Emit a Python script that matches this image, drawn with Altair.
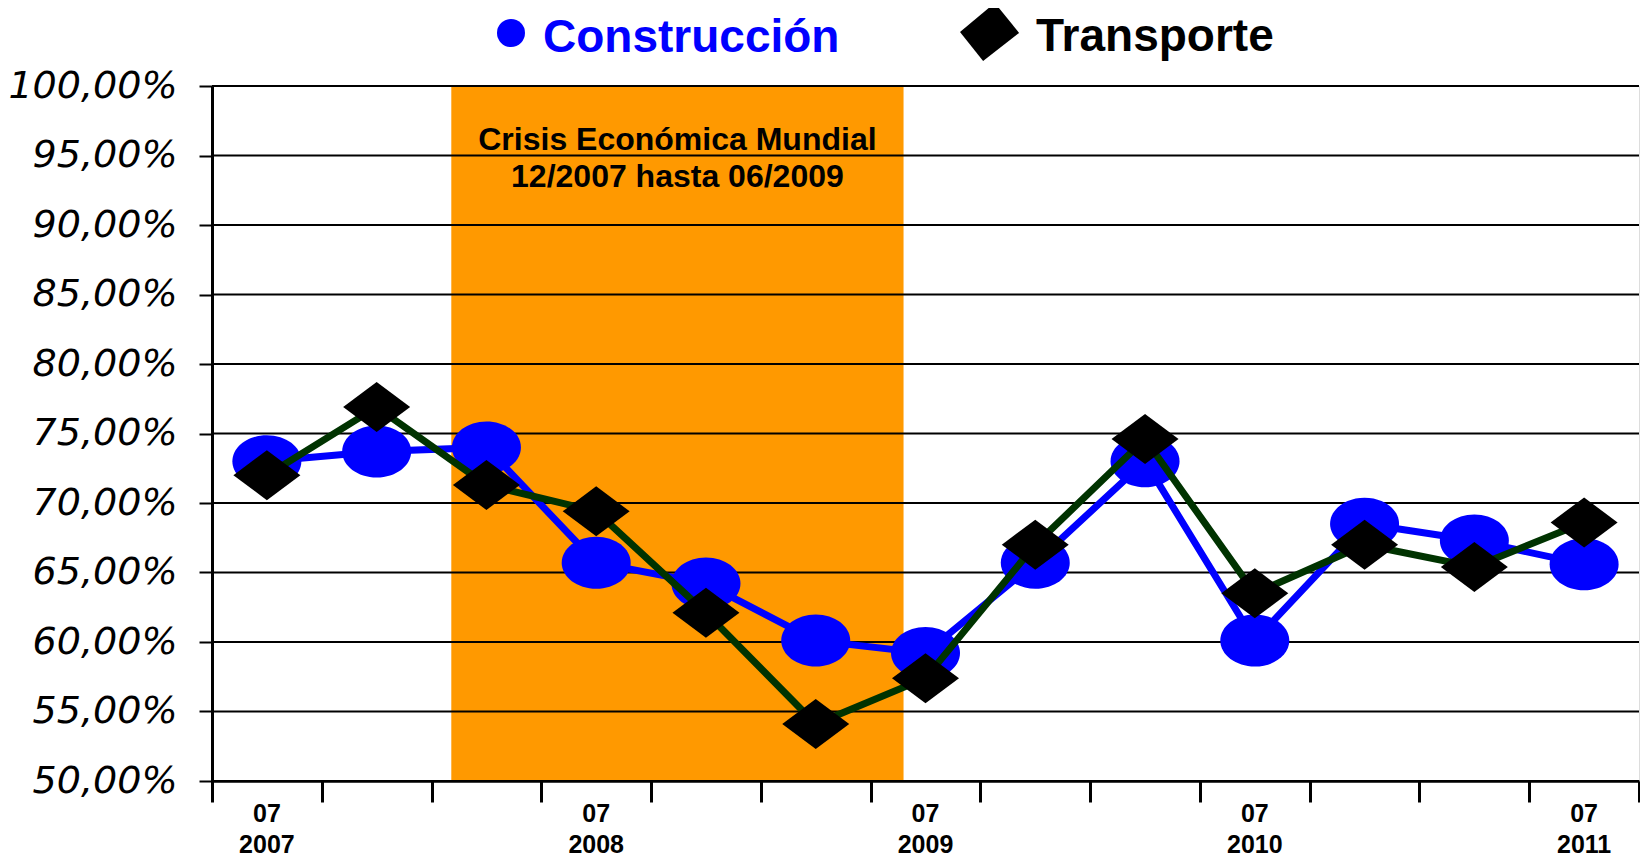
import altair as alt
import pandas as pd

# ---------------- data ----------------
periods = ["07/2007", "11/2007", "03/2008", "07/2008", "11/2008", "03/2009", "07/2009",
           "11/2009", "03/2010", "07/2010", "11/2010", "03/2011", "07/2011"]
construccion = [73.0, 73.7, 74.0, 65.7, 64.2, 60.1, 59.2, 65.7, 73.0, 60.1, 68.5, 67.3, 65.6]
transporte = [72.0, 76.9, 71.3, 69.4, 62.1, 54.1, 57.4, 67.0, 74.6, 63.5, 67.0, 65.4, 68.6]

band_start = [1.68]
band_end = [5.80]
band_label = ["Crisis Económica Mundial\n12/2007 hasta 06/2009"]
band_label_x = [3.74]
band_label_y = [0.954]

label_pos = [0, 3, 6, 9, 12]
label_text = ["07\n2007", "07\n2008", "07\n2009", "07\n2010", "07\n2011"]

y_ticks = [0.50, 0.55, 0.60, 0.65, 0.70, 0.75, 0.80, 0.85, 0.90, 0.95, 1.00]
x_ticks = [i - 0.5 for i in range(len(periods) + 1)]

series_names = ["Construcción", "Transporte"]

# ---------------- tables ----------------
idx = list(range(len(periods)))
df_c = pd.DataFrame({"i": idx, "periodo": periods, "v": [v / 100 for v in construccion]})
df_t = pd.DataFrame({"i": idx, "periodo": periods, "v": [v / 100 for v in transporte]})
df_band = pd.DataFrame({"a": band_start, "b": band_end, "lx": band_label_x,
                        "ly": band_label_y, "t": band_label})
df_lab = pd.DataFrame({"p": label_pos, "t": label_text})
df_grid = pd.DataFrame({"g": y_ticks})
df_leg1 = pd.DataFrame({"t": [series_names[0]]})
df_leg2 = pd.DataFrame({"t": [series_names[1]]})

W, H = 1427, 695
FONT = "Liberation Sans"

xs = alt.Scale(domain=[-0.5, 12.5], nice=False, zero=False)
ys = alt.Scale(domain=[0.5, 1.0], nice=False, zero=False)

x_axis = alt.Axis(values=x_ticks, labels=False, title=None, grid=False,
                  tickSize=21, tickWidth=3, tickColor="black",
                  domainColor="black", domainWidth=2.5, zindex=1)
y_axis = alt.Axis(values=y_ticks, grid=False, title=None,
                  tickSize=13, tickWidth=2, tickColor="black",
                  domainColor="black", domainWidth=3,
                  labelExpr="replace(format(datum.value, '.2%'), '.', ',')",
                  labelFont="DejaVu Sans", labelFontStyle="italic",
                  labelFontSize=38, labelColor="black", labelPadding=22, zindex=1)

ellipse = ("M 1 0 C 1 0.4164 0.5523 0.754 0 0.754 C -0.5523 0.754 -1 0.4164 -1 0 "
           "C -1 -0.4164 -0.5523 -0.754 0 -0.754 C 0.5523 -0.754 1 -0.4164 1 0 Z")
diamond = "M -1 0 L 0 -0.746 L 1 0 L 0 0.746 Z"
legend_diamond = "M -1 0 L 0.16 -0.97 L 0.97 0.03 L -0.23 0.97 Z"

band = alt.Chart(df_band).mark_rect(color="#FF9900").encode(
    x=alt.X("a:Q", scale=xs, axis=x_axis),
    x2="b:Q",
    y=alt.value(0),
    y2=alt.value(H),
)

band_text = alt.Chart(df_band).mark_text(
    font=FONT, fontWeight="bold", fontSize=32, color="black",
    align="center", baseline="alphabetic", lineBreak="\n", lineHeight=37
).encode(
    x=alt.X("lx:Q", scale=xs, axis=x_axis),
    y=alt.Y("ly:Q", scale=ys, axis=y_axis),
    text="t:N",
)

grid = alt.Chart(df_grid).mark_rule(color="black", strokeWidth=2).encode(
    y=alt.Y("g:Q", scale=ys, axis=y_axis)
)

line_c = alt.Chart(df_c).mark_line(color="#0000FF", strokeWidth=7).encode(
    x=alt.X("i:Q", scale=xs, axis=x_axis),
    y=alt.Y("v:Q", scale=ys, axis=y_axis),
)
pts_c = alt.Chart(df_c).mark_point(shape=ellipse, filled=True, size=69 * 69,
                                   color="#0000FF", opacity=1).encode(
    x=alt.X("i:Q", scale=xs, axis=x_axis),
    y=alt.Y("v:Q", scale=ys, axis=y_axis),
)
line_t = alt.Chart(df_t).mark_line(color="#003300", strokeWidth=7).encode(
    x=alt.X("i:Q", scale=xs, axis=x_axis),
    y=alt.Y("v:Q", scale=ys, axis=y_axis),
)
pts_t = alt.Chart(df_t).mark_point(shape=diamond, filled=True, size=67 * 67,
                                   color="black", opacity=1).encode(
    x=alt.X("i:Q", scale=xs, axis=x_axis),
    y=alt.Y("v:Q", scale=ys, axis=y_axis),
)

xlabels = alt.Chart(df_lab).mark_text(
    font=FONT, fontWeight="bold", fontSize=25, color="black",
    align="center", baseline="alphabetic", lineBreak="\n", lineHeight=31
).encode(
    x=alt.X("p:Q", scale=xs, axis=x_axis),
    y=alt.value(H + 41),
    text="t:N",
)

# legend (top)
leg_c_sym = alt.Chart(df_leg1).mark_point(shape="circle", filled=True, size=28 * 28,
                                          color="#0000FF", opacity=1).encode(
    x=alt.value(299), y=alt.value(-53))
leg_c_txt = alt.Chart(df_leg1).mark_text(
    font=FONT, fontWeight="bold", fontSize=46, color="#0000FF",
    align="left", baseline="alphabetic").encode(
    x=alt.value(331), y=alt.value(-34), text="t:N")
leg_t_sym = alt.Chart(df_leg2).mark_point(shape=legend_diamond, filled=True, size=60 * 60,
                                          color="black", opacity=1).encode(
    x=alt.value(778), y=alt.value(-54))
leg_t_txt = alt.Chart(df_leg2).mark_text(
    font=FONT, fontWeight="bold", fontSize=46, color="black",
    align="left", baseline="alphabetic").encode(
    x=alt.value(824), y=alt.value(-35), text="t:N")

chart = alt.layer(
    band, grid, band_text, line_c, pts_c, line_t, pts_t, xlabels,
    leg_c_sym, leg_c_txt, leg_t_sym, leg_t_txt
).properties(
    width=W, height=H,
    autosize=alt.AutoSizeParams(type="none"),
    padding={"left": 204, "top": 78, "right": 1, "bottom": 76},
).configure_view(
    stroke="black", strokeWidth=2
).configure(background="white")

chart.save("out.html", embed_options={"renderer": "svg", "actions": False})
